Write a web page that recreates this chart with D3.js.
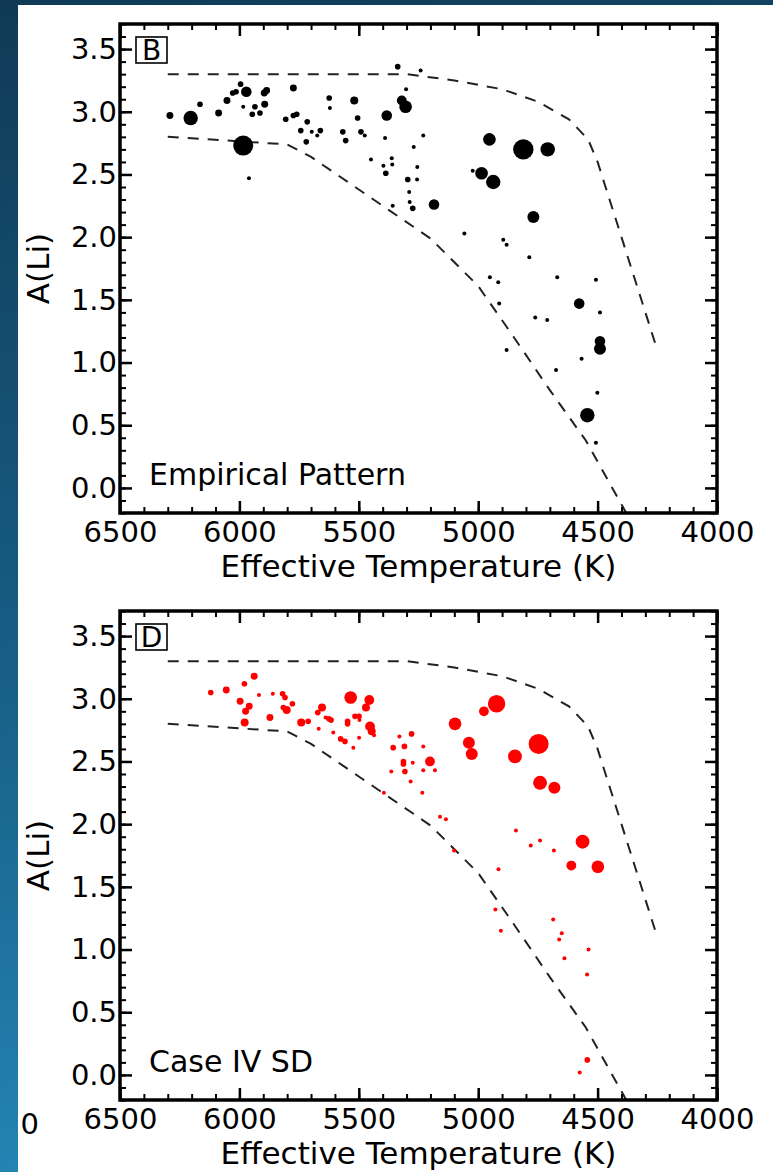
<!DOCTYPE html>
<html><head><meta charset="utf-8">
<script src="https://cdn.jsdelivr.net/npm/d3@7"></script>
<style>html,body{margin:0;padding:0;background:#fff;}svg{display:block;}</style>
</head><body>
<svg id="chart" width="773" height="1172"></svg>
<script>
// ---------- data ----------
const xTicks = [6500, 6000, 5500, 5000, 4500, 4000];
const yTicks = [0.0, 0.5, 1.0, 1.5, 2.0, 2.5, 3.0, 3.5];
const xMinor = d3.range(4000, 6501, 100);
const yMinor = d3.range(-2, 38, 1).map(d => d / 10);
const xTitle = "Effective Temperature (K)";
const yTitle = "A(Li)";
const panelTags = ["B", "D"];
const panelNames = ["Empirical Pattern", "Case IV SD"];
const cutLabel = "0";

const upperT = [6300, 5300, 5100, 4900, 4750, 4620, 4540, 4500, 4250];
const upperA = [3.3, 3.3, 3.25, 3.18, 3.08, 2.94, 2.78, 2.6, 1.1];
const lowerT = [6300, 5800, 5700, 5500, 5200, 5000, 4850, 4700, 4550, 4380];
const lowerA = [2.8, 2.74, 2.64, 2.38, 1.99, 1.61, 1.2, 0.78, 0.38, -0.2];

const empT = [6291,6204,6165,6087,6052,6028,6014,5995,5971,5984,5935,5946,5914,5894,5886,5896,5984,5960,5774,5806,5774,5760,5716,5743,5697,5661,5674,5720,5624,5621,5337,5241,5519,5505,5383,5320,5304,5302,5567,5555,5491,5475,5390,5230,5270,5449,5362,5397,5360,5387,5255,5295,5256,5289,5287,5274,5358,5185,4953,5023,4986,4937,4811,4709,4769,5058,4895,4881,4786,4951,4916,4669,4507,4912,4577,4490,4761,4711,4490,4490,4881,4567,4674,4501,4543,4507];
const empA = [2.97,2.95,3.06,2.99,3.09,3.15,3.16,3.22,3.16,3.04,3.04,2.98,2.99,3.06,3.17,3.15,2.73,2.47,3.19,2.94,2.97,2.98,2.92,2.85,2.84,2.85,2.81,2.76,3.11,3.03,3.36,3.33,3.09,2.95,2.97,3.09,3.04,3.18,2.84,2.77,2.84,2.81,2.79,2.81,2.72,2.62,2.63,2.57,2.58,2.51,2.56,2.46,2.46,2.36,2.28,2.23,2.25,2.26,2.78,2.53,2.51,2.44,2.70,2.70,2.16,2.03,1.98,1.94,1.84,1.68,1.64,1.68,1.66,1.47,1.47,1.40,1.36,1.34,1.17,1.11,1.10,1.03,0.94,0.76,0.58,0.36];
const empW = [3,13,2,3,3,2,2,2,7,1,2,2,2,3,3,3,25,1,3,2,2,2,2,2,1,2,1,2,2,1,2,1,4,2,7,6,10,1,2,2,2,1,1,1,1,1,1,1,1,2,1,2,1,1,1,2,1,7,10,1,10,13,26,13,9,1,1,1,1,1,1,1,1,1,7,1,1,1,7,9,1,1,1,1,13,1];

const sdT = [6120,6055,5979,5938,5918,5860,5819,5809,5997,5959,5974,5778,5816,5802,5978,5872,5741,5712,5668,5654,5672,5625,5639,5616,5607,5576,5558,5523,5534,5456,5470,5516,5499,5497,5547,5547,5453,5446,5436,5499,5330,5279,5356,5309,5230,5202,5313,5313,5274,5364,5307,5230,5181,5283,5234,5395,5097,5039,5027,4923,4976,4846,4747,4741,4681,4563,4610,4499,5160,5135,4842,4780,4741,4683,5101,4915,4928,4905,4686,4650,4661,4639,4538,4544,4543,4575];
const sdA = [3.05,3.07,3.12,3.18,3.03,3.04,3.04,3.01,2.98,2.94,2.90,2.96,2.93,2.91,2.81,2.85,2.81,2.82,2.76,2.93,2.89,2.84,2.85,2.83,2.73,2.68,2.66,2.61,3.01,2.99,2.93,2.86,2.86,2.83,2.82,2.80,2.78,2.74,2.71,2.69,2.70,2.72,2.61,2.62,2.62,2.50,2.50,2.48,2.49,2.42,2.42,2.43,2.43,2.34,2.25,2.25,2.80,2.65,2.56,2.96,2.90,2.54,2.64,2.33,2.29,1.86,1.67,1.66,2.06,2.04,1.95,1.83,1.87,1.79,1.79,1.64,1.32,1.15,1.24,1.13,1.08,0.93,1.00,0.80,0.12,0.02];
const sdW = [2,3,2,3,1,1,2,2,3,3,3,2,2,4,4,3,4,2,1,4,2,2,1,2,1,2,2,1,10,6,4,2,2,1,2,2,6,4,1,1,1,2,2,2,1,6,2,2,1,1,2,1,1,1,1,1,10,9,9,19,6,12,25,12,9,12,6,10,1,1,1,1,1,1,1,1,1,1,1,1,1,1,1,1,2,1];

// ---------- layout ----------
const W = 773, H = 1172;
const left = 120, right = 717, plotH = 489;
const tops = [24, 611];
const FONT = "DejaVu Sans, sans-serif";

const svg = d3.select("#chart");
const defs = svg.append("defs");
const grad = defs.append("linearGradient").attr("id", "bg").attr("x1", 0).attr("y1", 0).attr("x2", 0.15).attr("y2", 1);
grad.append("stop").attr("offset", "0%").attr("stop-color", "#103a55");
grad.append("stop").attr("offset", "55%").attr("stop-color", "#175e85");
grad.append("stop").attr("offset", "100%").attr("stop-color", "#2585b5");
svg.append("rect").attr("width", W).attr("height", H).attr("fill", "url(#bg)");
svg.append("rect").attr("x", 18).attr("y", 5).attr("width", W - 18).attr("height", H - 5).attr("fill", "#fff");

const x = d3.scaleLinear().domain([6500, 4000]).range([left, right]);
const r = d3.scaleSqrt().domain([0, 25]).range([0, 10]);

// label fragment from the neighbouring panel
svg.append("text").attr("x", 39).attr("y", 1134).attr("text-anchor", "end")
  .attr("font-family", FONT).attr("font-size", 29).attr("fill", "#000").text(cutLabel);

const panels = [
  {T: empT, A: empA, Wt: empW, color: "#000"},
  {T: sdT, A: sdA, Wt: sdW, color: "#ff0000"}
];

panels.forEach((p, i) => {
  const top = tops[i], bottom = top + plotH;
  const y = d3.scaleLinear().domain([-0.2, 3.7]).range([bottom, top]);
  const g = svg.append("g");
  const cid = "clip" + i;
  defs.append("clipPath").attr("id", cid).append("rect")
    .attr("x", left).attr("y", top).attr("width", right - left).attr("height", plotH);

  // dashed boundary curves
  const line = d3.line().x(d => x(d[0])).y(d => y(d[1]));
  [[upperT, upperA], [lowerT, lowerA]].forEach(([ts, as]) => {
    g.append("path").attr("clip-path", `url(#${cid})`)
      .attr("d", line(ts.map((t, k) => [t, as[k]])))
      .attr("fill", "none").attr("stroke", "#222").attr("stroke-width", 2)
      .attr("stroke-dasharray", "11,9");
  });

  // points (large first so small stay visible)
  const pts = p.T.map((t, k) => ({t, a: p.A[k], w: p.Wt[k]})).sort((a, b) => b.w - a.w);
  g.append("g").attr("clip-path", `url(#${cid})`).selectAll("circle").data(pts).join("circle")
    .attr("cx", d => x(d.t)).attr("cy", d => y(d.a)).attr("r", d => r(d.w))
    .attr("fill", p.color);

  // axes
  const styleAxis = (sel, w) => {
    sel.select(".domain").remove();
    sel.selectAll(".tick line").attr("stroke", "#000").attr("stroke-width", w);
    sel.selectAll("text").attr("font-family", FONT).attr("font-size", 29).attr("fill", "#000");
  };
  g.append("g").attr("transform", `translate(0,${bottom})`)
    .call(d3.axisBottom(x).tickValues(xMinor).tickSize(-6).tickFormat("")).call(s => styleAxis(s, 2));
  g.append("g").attr("transform", `translate(0,${bottom})`)
    .call(d3.axisBottom(x).tickValues(xTicks).tickSize(-12).tickPadding(8).tickFormat(d3.format("d"))).call(s => styleAxis(s, 2.5));
  g.append("g").attr("transform", `translate(0,${top})`)
    .call(d3.axisTop(x).tickValues(xMinor).tickSize(-6).tickFormat("")).call(s => styleAxis(s, 2));
  g.append("g").attr("transform", `translate(0,${top})`)
    .call(d3.axisTop(x).tickValues(xTicks).tickSize(-12).tickFormat("")).call(s => styleAxis(s, 2.5));
  g.append("g").attr("transform", `translate(${left},0)`)
    .call(d3.axisLeft(y).tickValues(yMinor).tickSize(-6).tickFormat("")).call(s => styleAxis(s, 2));
  g.append("g").attr("transform", `translate(${left},0)`)
    .call(d3.axisLeft(y).tickValues(yTicks).tickSize(-12).tickPadding(3).tickFormat(d3.format(".1f"))).call(s => styleAxis(s, 2.5));
  g.append("g").attr("transform", `translate(${right},0)`)
    .call(d3.axisRight(y).tickValues(yMinor).tickSize(-6).tickFormat("")).call(s => styleAxis(s, 2));
  g.append("g").attr("transform", `translate(${right},0)`)
    .call(d3.axisRight(y).tickValues(yTicks).tickSize(-12).tickFormat("")).call(s => styleAxis(s, 2.5));

  // frame
  g.append("rect").attr("x", left).attr("y", top).attr("width", right - left).attr("height", plotH)
    .attr("fill", "none").attr("stroke", "#000").attr("stroke-width", 3.5);

  // titles
  g.append("text").attr("x", (left + right) / 2).attr("y", bottom + 64).attr("text-anchor", "middle")
    .attr("font-family", FONT).attr("font-size", 31).attr("fill", "#000").text(xTitle);
  g.append("text").attr("transform", `translate(49,${(top + bottom) / 2}) rotate(-90)`).attr("text-anchor", "middle")
    .attr("font-family", FONT).attr("font-size", 31).attr("fill", "#000").text(yTitle);

  // panel tag box
  g.append("rect").attr("x", 136).attr("y", top + 13).attr("width", 31).attr("height", 26)
    .attr("fill", "#fff").attr("stroke", "#000").attr("stroke-width", 1.6);
  g.append("text").attr("x", 151.5).attr("y", top + 36).attr("text-anchor", "middle")
    .attr("font-family", FONT).attr("font-size", 28).attr("fill", "#000").text(panelTags[i]);

  // panel name
  g.append("text").attr("x", 149).attr("y", y(0) - 3)
    .attr("font-family", FONT).attr("font-size", 30).attr("fill", "#000").text(panelNames[i]);
});
</script>
</body></html>
